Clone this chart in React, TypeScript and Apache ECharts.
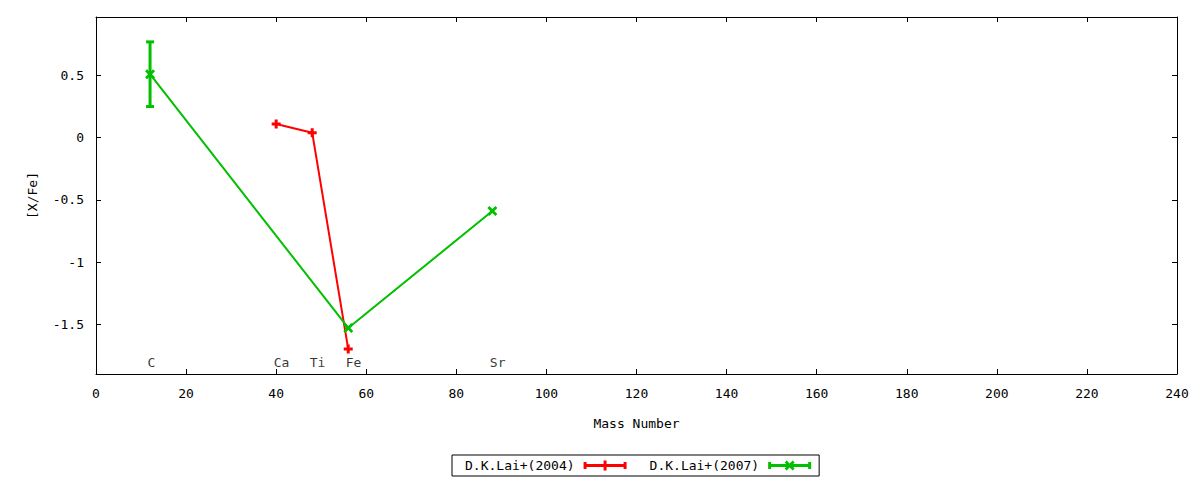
import React, { useEffect, useRef } from "react";
import * as echarts from "echarts";

// ---- data ----
const X_MIN = 0;
const X_MAX = 240;
const X_INTERVAL = 20;
const Y_MIN = -1.9;
const Y_MAX = 0.97;
const Y_TICKS = [-1.5, -1, -0.5, 0, 0.5];

const ELEMENTS = ["C", "Ca", "Ti", "Fe", "Sr"];
const ELEMENT_MASS = [12, 40, 48, 56, 88];
const ELEMENT_LABEL_Y = -1.81;

const SERIES_2004_NAME = "D.K.Lai+(2004)";
const SERIES_2004_X = [40, 48, 56];
const SERIES_2004_Y = [0.11, 0.04, -1.7];

const SERIES_2007_NAME = "D.K.Lai+(2007)";
const SERIES_2007_X = [12, 56, 88];
const SERIES_2007_Y = [0.51, -1.53, -0.59];
const SERIES_2007_ERR = [0.26, 0, 0];

// ---- styles ----
const RED = "#ff0000";
const GREEN = "#00c000";
const FONT = "'DejaVu Sans Mono', 'Liberation Mono', monospace";
const FS = 13;

const PLUS_SYMBOL = "path://M3,0H6V3H9V6H6V9H3V6H0V3H3Z";
const X_SYMBOL =
  "path://M0,2L2,0L5,3L8,0L10,2L7,5L10,8L8,10L5,7L2,10L0,8L3,5Z";
const ICON_2004 =
  "path://M0,1.5H3V3.5H40V1.5H43V8.5H40V6.5H3V8.5H0Z M20,0H23V3.5H26V6.5H23V10H20V6.5H17V3.5H20Z";
const ICON_2007 =
  "path://M0,1.5H3V3.5H40V1.5H43V8.5H40V6.5H3V8.5H0Z M16.5,2L18.5,0L21.5,3L24.5,0L26.5,2L23.5,5L26.5,8L24.5,10L21.5,7L18.5,10L16.5,8L19.5,5Z";

export default function App() {
  const ref = useRef<HTMLDivElement>(null);

  useEffect(() => {
    document.body.style.margin = "0";
    if (!ref.current) return;
    const chart = echarts.init(ref.current, null, { renderer: "svg" });

    const textBase = { fontFamily: FONT, fontSize: FS, color: "#000" };
    const axisLineStyle = { lineStyle: { color: "#000", width: 1 } };

    const xAxisCommon = {
      type: "value" as const,
      min: X_MIN,
      max: X_MAX,
      interval: X_INTERVAL,
      axisLine: { show: true, onZero: false, ...axisLineStyle },
      axisTick: { show: true, inside: true, length: 5, lineStyle: { color: "#000" } },
      splitLine: { show: false },
    };
    const yAxisCommon = {
      type: "value" as const,
      min: Y_MIN,
      max: Y_MAX,
      axisLine: { show: true, onZero: false, ...axisLineStyle },
      axisTick: {
        show: true,
        inside: true,
        length: 5,
        customValues: Y_TICKS,
        lineStyle: { color: "#000" },
      },
      splitLine: { show: false },
    };

    const option: any = {
      animation: false,
      backgroundColor: "#fff",
      textStyle: { fontFamily: FONT },
      grid: { left: 96, right: 23, top: 17, bottom: 106, containLabel: false },
      xAxis: [
        {
          ...xAxisCommon,
          position: "bottom",
          name: "Mass Number",
          nameLocation: "middle",
          nameGap: 43,
          nameTextStyle: textBase,
          axisLabel: { show: true, margin: 13, ...textBase },
        },
        {
          ...xAxisCommon,
          position: "top",
          axisLabel: { show: false },
        },
      ],
      yAxis: [
        {
          ...yAxisCommon,
          position: "left",
          name: "[X/Fe]",
          nameLocation: "middle",
          nameGap: 57,
          nameRotate: 90,
          nameTextStyle: textBase,
          axisLabel: { show: true, margin: 12, customValues: Y_TICKS, ...textBase },
        },
        {
          ...yAxisCommon,
          position: "right",
          axisLabel: { show: false },
        },
      ],
      legend: {
        left: 452,
        top: 455,
        orient: "horizontal",
        align: "right",
        padding: [3, 8, 3, 13],
        borderColor: "#000",
        borderWidth: 1,
        borderRadius: 0,
        itemWidth: 51,
        itemHeight: 10,
        itemGap: 23,
        symbolKeepAspect: true,
        selectedMode: false,
        itemStyle: { borderWidth: 0 },
        textStyle: { ...textBase, lineHeight: 15 },
        data: [
          { name: SERIES_2004_NAME, icon: ICON_2004 },
          { name: SERIES_2007_NAME, icon: ICON_2007 },
        ],
      },
      series: [
        {
          name: "element labels",
          type: "scatter",
          silent: true,
          symbol: "circle",
          symbolSize: 1,
          itemStyle: { color: "transparent" },
          data: ELEMENTS.map((el, i) => ({
            value: [ELEMENT_MASS[i], ELEMENT_LABEL_Y],
            name: el,
          })),
          label: {
            show: true,
            formatter: (p: any) => p.name,
            position: [-2, 0],
            align: "left",
            verticalAlign: "middle",
            ...textBase,
          },
          z: 1,
        },
        {
          name: SERIES_2004_NAME,
          type: "line",
          data: SERIES_2004_X.map((x, i) => [x, SERIES_2004_Y[i]]),
          symbol: PLUS_SYMBOL,
          symbolSize: 9,
          showAllSymbol: true,
          lineStyle: { color: RED, width: 2 },
          itemStyle: { color: RED, borderWidth: 0 },
          z: 3,
        },
        {
          name: "2007 error bars",
          type: "custom",
          silent: true,
          data: SERIES_2007_X.map((x, i) => [x, SERIES_2007_Y[i], SERIES_2007_ERR[i]]),
          encode: { x: 0, y: 1 },
          renderItem: (params: any, api: any) => {
            const x = api.value(0);
            const y = api.value(1);
            const e = api.value(2);
            if (!e) return { type: "group", children: [] };
            const top = api.coord([x, y + e]);
            const bot = api.coord([x, y - e]);
            const hw = 4;
            const st = { stroke: GREEN, lineWidth: 3 };
            return {
              type: "group",
              children: [
                { type: "line", shape: { x1: top[0], y1: top[1], x2: bot[0], y2: bot[1] }, style: st },
                { type: "line", shape: { x1: top[0] - hw, y1: top[1], x2: top[0] + hw, y2: top[1] }, style: st },
                { type: "line", shape: { x1: bot[0] - hw, y1: bot[1], x2: bot[0] + hw, y2: bot[1] }, style: st },
              ],
            };
          },
          z: 4,
        },
        {
          name: SERIES_2007_NAME,
          type: "line",
          data: SERIES_2007_X.map((x, i) => [x, SERIES_2007_Y[i]]),
          symbol: X_SYMBOL,
          symbolSize: 10,
          showAllSymbol: true,
          lineStyle: { color: GREEN, width: 2 },
          itemStyle: { color: GREEN, borderWidth: 0 },
          z: 5,
        },
      ],
    };

    chart.setOption(option);
    return () => chart.dispose();
  }, []);

  return <div ref={ref} style={{ width: 1200, height: 480 }} />;
}
